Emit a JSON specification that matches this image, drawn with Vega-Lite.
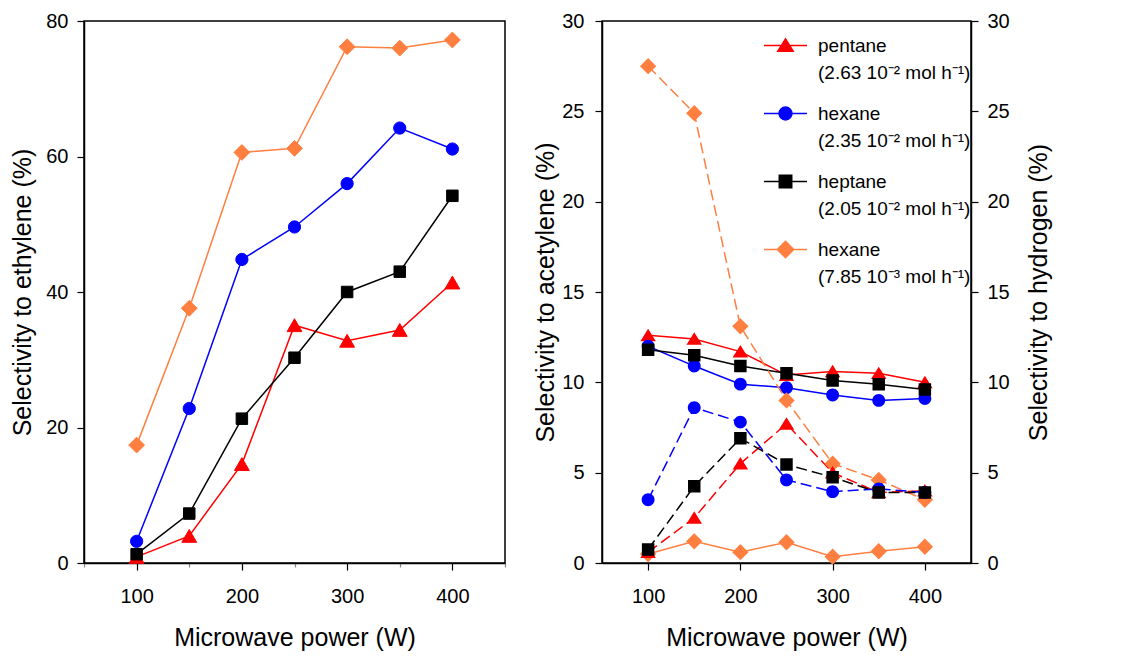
{
  "$schema": "https://vega.github.io/schema/vega-lite/v6.json",
  "background": "white",
  "padding": {"left": 10, "top": 10, "right": 5, "bottom": 5},
  "spacing": 26,
  "config": {
    "font": "Liberation Sans",
    "view": {"stroke": "black", "strokeWidth": 1.5},
    "style": {"guide-label": {"lineHeight": 27}},
    "axis": {
      "grid": false,
      "domainColor": "black",
      "domainWidth": 1.5,
      "tickColor": "black",
      "tickWidth": 1.2,
      "tickSize": 7,
      "labelFontSize": 20,
      "labelColor": "black",
      "labelPadding": 9,
      "titleFontSize": 25,
      "titleFontWeight": "normal",
      "titleColor": "black",
      "titlePadding": 10
    },
    "axisX": {"labelPadding": 16, "titlePadding": 19}
  },
  "resolve": {
    "scale": {"color": "independent", "fill": "independent", "stroke": "independent", "shape": "independent", "size": "independent"},
    "legend": {"color": "independent", "fill": "independent", "stroke": "independent", "shape": "independent", "size": "independent"}
  },
  "datasets": {
    "eth": [
      {"series": "hexane\n(7.85 10⁻³ mol h⁻¹)", "power": 100, "value": 17.4},
      {"series": "hexane\n(7.85 10⁻³ mol h⁻¹)", "power": 150, "value": 37.6},
      {"series": "hexane\n(7.85 10⁻³ mol h⁻¹)", "power": 200, "value": 60.6},
      {"series": "hexane\n(7.85 10⁻³ mol h⁻¹)", "power": 250, "value": 61.2},
      {"series": "hexane\n(7.85 10⁻³ mol h⁻¹)", "power": 300, "value": 76.2},
      {"series": "hexane\n(7.85 10⁻³ mol h⁻¹)", "power": 350, "value": 76.0},
      {"series": "hexane\n(7.85 10⁻³ mol h⁻¹)", "power": 400, "value": 77.2},
      {"series": "pentane\n(2.63 10⁻² mol h⁻¹)", "power": 100, "value": 0.9},
      {"series": "pentane\n(2.63 10⁻² mol h⁻¹)", "power": 150, "value": 4.0},
      {"series": "pentane\n(2.63 10⁻² mol h⁻¹)", "power": 200, "value": 14.6},
      {"series": "pentane\n(2.63 10⁻² mol h⁻¹)", "power": 250, "value": 35.1},
      {"series": "pentane\n(2.63 10⁻² mol h⁻¹)", "power": 300, "value": 32.8},
      {"series": "pentane\n(2.63 10⁻² mol h⁻¹)", "power": 350, "value": 34.4},
      {"series": "pentane\n(2.63 10⁻² mol h⁻¹)", "power": 400, "value": 41.4},
      {"series": "hexane\n(2.35 10⁻² mol h⁻¹)", "power": 100, "value": 3.2},
      {"series": "hexane\n(2.35 10⁻² mol h⁻¹)", "power": 150, "value": 22.8},
      {"series": "hexane\n(2.35 10⁻² mol h⁻¹)", "power": 200, "value": 44.8},
      {"series": "hexane\n(2.35 10⁻² mol h⁻¹)", "power": 250, "value": 49.6},
      {"series": "hexane\n(2.35 10⁻² mol h⁻¹)", "power": 300, "value": 56.0},
      {"series": "hexane\n(2.35 10⁻² mol h⁻¹)", "power": 350, "value": 64.2},
      {"series": "hexane\n(2.35 10⁻² mol h⁻¹)", "power": 400, "value": 61.1},
      {"series": "heptane\n(2.05 10⁻² mol h⁻¹)", "power": 100, "value": 1.3},
      {"series": "heptane\n(2.05 10⁻² mol h⁻¹)", "power": 150, "value": 7.3},
      {"series": "heptane\n(2.05 10⁻² mol h⁻¹)", "power": 200, "value": 21.3},
      {"series": "heptane\n(2.05 10⁻² mol h⁻¹)", "power": 250, "value": 30.3},
      {"series": "heptane\n(2.05 10⁻² mol h⁻¹)", "power": 300, "value": 40.0},
      {"series": "heptane\n(2.05 10⁻² mol h⁻¹)", "power": 350, "value": 43.0},
      {"series": "heptane\n(2.05 10⁻² mol h⁻¹)", "power": 400, "value": 54.2}
    ],
    "acet": [
      {"series": "hexane\n(7.85 10⁻³ mol h⁻¹)", "power": 100, "value": 0.5},
      {"series": "hexane\n(7.85 10⁻³ mol h⁻¹)", "power": 150, "value": 1.2},
      {"series": "hexane\n(7.85 10⁻³ mol h⁻¹)", "power": 200, "value": 0.6},
      {"series": "hexane\n(7.85 10⁻³ mol h⁻¹)", "power": 250, "value": 1.15},
      {"series": "hexane\n(7.85 10⁻³ mol h⁻¹)", "power": 300, "value": 0.35},
      {"series": "hexane\n(7.85 10⁻³ mol h⁻¹)", "power": 350, "value": 0.65},
      {"series": "hexane\n(7.85 10⁻³ mol h⁻¹)", "power": 400, "value": 0.9},
      {"series": "pentane\n(2.63 10⁻² mol h⁻¹)", "power": 100, "value": 12.6},
      {"series": "pentane\n(2.63 10⁻² mol h⁻¹)", "power": 150, "value": 12.4},
      {"series": "pentane\n(2.63 10⁻² mol h⁻¹)", "power": 200, "value": 11.7},
      {"series": "pentane\n(2.63 10⁻² mol h⁻¹)", "power": 250, "value": 10.4},
      {"series": "pentane\n(2.63 10⁻² mol h⁻¹)", "power": 300, "value": 10.6},
      {"series": "pentane\n(2.63 10⁻² mol h⁻¹)", "power": 350, "value": 10.5},
      {"series": "pentane\n(2.63 10⁻² mol h⁻¹)", "power": 400, "value": 10.0},
      {"series": "hexane\n(2.35 10⁻² mol h⁻¹)", "power": 100, "value": 12.0},
      {"series": "hexane\n(2.35 10⁻² mol h⁻¹)", "power": 150, "value": 10.9},
      {"series": "hexane\n(2.35 10⁻² mol h⁻¹)", "power": 200, "value": 9.9},
      {"series": "hexane\n(2.35 10⁻² mol h⁻¹)", "power": 250, "value": 9.7},
      {"series": "hexane\n(2.35 10⁻² mol h⁻¹)", "power": 300, "value": 9.3},
      {"series": "hexane\n(2.35 10⁻² mol h⁻¹)", "power": 350, "value": 9.0},
      {"series": "hexane\n(2.35 10⁻² mol h⁻¹)", "power": 400, "value": 9.1},
      {"series": "heptane\n(2.05 10⁻² mol h⁻¹)", "power": 100, "value": 11.8},
      {"series": "heptane\n(2.05 10⁻² mol h⁻¹)", "power": 150, "value": 11.5},
      {"series": "heptane\n(2.05 10⁻² mol h⁻¹)", "power": 200, "value": 10.9},
      {"series": "heptane\n(2.05 10⁻² mol h⁻¹)", "power": 250, "value": 10.5},
      {"series": "heptane\n(2.05 10⁻² mol h⁻¹)", "power": 300, "value": 10.1},
      {"series": "heptane\n(2.05 10⁻² mol h⁻¹)", "power": 350, "value": 9.9},
      {"series": "heptane\n(2.05 10⁻² mol h⁻¹)", "power": 400, "value": 9.6}
    ],
    "hyd": [
      {"series": "hexane\n(7.85 10⁻³ mol h⁻¹)", "power": 100, "value": 27.5},
      {"series": "hexane\n(7.85 10⁻³ mol h⁻¹)", "power": 150, "value": 24.9},
      {"series": "hexane\n(7.85 10⁻³ mol h⁻¹)", "power": 200, "value": 13.1},
      {"series": "hexane\n(7.85 10⁻³ mol h⁻¹)", "power": 250, "value": 9.0},
      {"series": "hexane\n(7.85 10⁻³ mol h⁻¹)", "power": 300, "value": 5.5},
      {"series": "hexane\n(7.85 10⁻³ mol h⁻¹)", "power": 350, "value": 4.6},
      {"series": "hexane\n(7.85 10⁻³ mol h⁻¹)", "power": 400, "value": 3.5},
      {"series": "pentane\n(2.63 10⁻² mol h⁻¹)", "power": 100, "value": 0.6},
      {"series": "pentane\n(2.63 10⁻² mol h⁻¹)", "power": 150, "value": 2.5},
      {"series": "pentane\n(2.63 10⁻² mol h⁻¹)", "power": 200, "value": 5.5},
      {"series": "pentane\n(2.63 10⁻² mol h⁻¹)", "power": 250, "value": 7.7},
      {"series": "pentane\n(2.63 10⁻² mol h⁻¹)", "power": 300, "value": 5.0},
      {"series": "pentane\n(2.63 10⁻² mol h⁻¹)", "power": 350, "value": 3.9},
      {"series": "pentane\n(2.63 10⁻² mol h⁻¹)", "power": 400, "value": 4.0},
      {"series": "hexane\n(2.35 10⁻² mol h⁻¹)", "power": 100, "value": 3.5},
      {"series": "hexane\n(2.35 10⁻² mol h⁻¹)", "power": 150, "value": 8.6},
      {"series": "hexane\n(2.35 10⁻² mol h⁻¹)", "power": 200, "value": 7.8},
      {"series": "hexane\n(2.35 10⁻² mol h⁻¹)", "power": 250, "value": 4.6},
      {"series": "hexane\n(2.35 10⁻² mol h⁻¹)", "power": 300, "value": 3.95},
      {"series": "hexane\n(2.35 10⁻² mol h⁻¹)", "power": 350, "value": 4.1},
      {"series": "hexane\n(2.35 10⁻² mol h⁻¹)", "power": 400, "value": 3.9},
      {"series": "heptane\n(2.05 10⁻² mol h⁻¹)", "power": 100, "value": 0.75},
      {"series": "heptane\n(2.05 10⁻² mol h⁻¹)", "power": 150, "value": 4.25},
      {"series": "heptane\n(2.05 10⁻² mol h⁻¹)", "power": 200, "value": 6.9},
      {"series": "heptane\n(2.05 10⁻² mol h⁻¹)", "power": 250, "value": 5.45},
      {"series": "heptane\n(2.05 10⁻² mol h⁻¹)", "power": 300, "value": 4.75},
      {"series": "heptane\n(2.05 10⁻² mol h⁻¹)", "power": 350, "value": 3.9},
      {"series": "heptane\n(2.05 10⁻² mol h⁻¹)", "power": 400, "value": 3.9}
    ]
  },
  "hconcat": [
    {
      "width": 421,
      "height": 542,
      "data": {"name": "eth"},
      "encoding": {
        "x": {"field": "power", "type": "quantitative", "scale": {"domain": [50, 450], "nice": false, "zero": false},
          "axis": {"title": "Microwave power (W)", "values": [50, 100, 150, 200, 250, 300, 350, 400, 450],
            "labelExpr": "datum.value % 100 == 0 ? datum.label : ''",
            "tickSize": {"condition": {"test": "datum.value % 100 == 0", "value": 7}, "value": 4},
            "tickColor": {"condition": {"test": "datum.value % 100 == 0", "value": "black"}, "value": "#888888"}}},
        "y": {"field": "value", "type": "quantitative", "scale": {"domain": [0, 80], "nice": false},
          "axis": {"title": "Selectivity to ethylene (%)", "values": [0, 20, 40, 60, 80]}}
      },
      "layer": [
        {"mark": {"type": "line", "strokeWidth": 1.5},
          "encoding": {"stroke": {"field": "series", "type": "nominal",
            "scale": {"domain": ["pentane\n(2.63 10⁻² mol h⁻¹)", "hexane\n(2.35 10⁻² mol h⁻¹)", "heptane\n(2.05 10⁻² mol h⁻¹)", "hexane\n(7.85 10⁻³ mol h⁻¹)"], "range": ["#FF0000", "#0000FF", "#000000", "#FF7F40"]}, "legend": null}}},
        {"mark": {"type": "point", "filled": true, "opacity": 1, "strokeWidth": 1},
          "encoding": {
            "fill": {"field": "series", "type": "nominal", "scale": {"domain": ["pentane\n(2.63 10⁻² mol h⁻¹)", "hexane\n(2.35 10⁻² mol h⁻¹)", "heptane\n(2.05 10⁻² mol h⁻¹)", "hexane\n(7.85 10⁻³ mol h⁻¹)"], "range": ["#FF0000", "#0000FF", "#000000", "#FF7F40"]}, "legend": null},
            "stroke": {"field": "series", "type": "nominal", "legend": null},
            "shape": {"field": "series", "type": "nominal", "scale": {"domain": ["pentane\n(2.63 10⁻² mol h⁻¹)", "hexane\n(2.35 10⁻² mol h⁻¹)", "heptane\n(2.05 10⁻² mol h⁻¹)", "hexane\n(7.85 10⁻³ mol h⁻¹)"], "range": ["triangle-up", "circle", "square", "diamond"]}, "legend": null},
            "size": {"field": "series", "type": "nominal", "scale": {"type": "ordinal", "domain": ["hexane\n(7.85 10⁻³ mol h⁻¹)", "heptane\n(2.05 10⁻² mol h⁻¹)", "hexane\n(2.35 10⁻² mol h⁻¹)", "pentane\n(2.63 10⁻² mol h⁻¹)"], "range": [250, 132, 150, 220]}, "legend": null}
          }}
      ]
    },
    {
      "width": 369,
      "height": 542,
      "encoding": {
        "x": {"field": "power", "type": "quantitative", "scale": {"domain": [50, 450], "nice": false, "zero": false},
          "axis": {"title": "Microwave power (W)", "values": [100, 200, 300, 400]}}
      },
      "layer": [
        {
          "data": {"name": "acet"},
          "encoding": {
            "y": {"field": "value", "type": "quantitative", "scale": {"domain": [0, 30], "nice": false},
              "axis": {"title": "Selectivity to acetylene (%)", "values": [0, 5, 10, 15, 20, 25, 30], "labelPadding": 11, "titlePadding": 3}}
          },
          "layer": [
            {"mark": {"type": "line", "strokeWidth": 1.5},
              "encoding": {"stroke": {"field": "series", "type": "nominal",
                "scale": {"domain": ["pentane\n(2.63 10⁻² mol h⁻¹)", "hexane\n(2.35 10⁻² mol h⁻¹)", "heptane\n(2.05 10⁻² mol h⁻¹)", "hexane\n(7.85 10⁻³ mol h⁻¹)"], "range": ["#FF0000", "#0000FF", "#000000", "#FF7F40"]},
                "legend": {"title": null, "orient": "none", "legendX": 161, "legendY": 2, "padding": 0, "labelExpr": "split(datum.label, '\\n')", "labelFontSize": 19, "labelColor": "black", "labelLimit": 0, "labelOffset": 10, "symbolSize": 1849, "symbolStrokeWidth": 1.5, "rowPadding": 8}}}},
            {"mark": {"type": "point", "filled": true, "opacity": 1, "size": 1849},
              "encoding": {
                "strokeWidth": {"value": 0},
                "fill": {"field": "series", "type": "nominal",
                  "scale": {"domain": ["pentane\n(2.63 10⁻² mol h⁻¹)", "hexane\n(2.35 10⁻² mol h⁻¹)", "heptane\n(2.05 10⁻² mol h⁻¹)", "hexane\n(7.85 10⁻³ mol h⁻¹)"], "range": ["#FF0000", "#0000FF", "#000000", "#FF7F40"]},
                  "legend": {"title": null, "orient": "none", "legendX": 161, "legendY": 2, "padding": 0, "labelExpr": "split(datum.label, '\\n')", "labelFontSize": 19, "labelColor": "black", "labelLimit": 0, "labelOffset": 10, "symbolSize": 1849, "symbolStrokeWidth": 1.5, "rowPadding": 8}},
                "shape": {"field": "series", "type": "nominal",
                  "scale": {"domain": ["pentane\n(2.63 10⁻² mol h⁻¹)", "hexane\n(2.35 10⁻² mol h⁻¹)", "heptane\n(2.05 10⁻² mol h⁻¹)", "hexane\n(7.85 10⁻³ mol h⁻¹)"],
                    "range": ["M-1,0H1M0,-0.31L0.36,0.27L-0.36,0.27Z", "M-1,0H1M-0.3,0A0.3,0.3,0,1,0,0.3,0A0.3,0.3,0,1,0,-0.3,0Z", "M-1,0H1M-0.29,-0.29H0.29V0.29H-0.29Z", "M-1,0H1M0,-0.38L0.38,0L0,0.38L-0.38,0Z"]},
                  "legend": {"title": null, "orient": "none", "legendX": 161, "legendY": 2, "padding": 0, "labelExpr": "split(datum.label, '\\n')", "labelFontSize": 19, "labelColor": "black", "labelLimit": 0, "labelOffset": 10, "symbolSize": 1849, "symbolStrokeWidth": 1.5, "rowPadding": 8}}
              }}
          ]
        },
        {
          "data": {"name": "hyd"},
          "encoding": {
            "y": {"field": "value", "type": "quantitative", "scale": {"domain": [0, 30], "nice": false},
              "axis": {"orient": "right", "title": "Selectivity to hydrogen (%)", "values": [0, 5, 10, 15, 20, 25, 30], "titleAngle": 270, "titleBaseline": "top", "titlePadding": 17}}
          },
          "layer": [
            {"mark": {"type": "line", "strokeWidth": 1.5, "strokeDash": [11, 5]},
              "encoding": {"color": {"field": "series", "type": "nominal",
                "scale": {"domain": ["hexane\n(7.85 10⁻³ mol h⁻¹)", "heptane\n(2.05 10⁻² mol h⁻¹)", "hexane\n(2.35 10⁻² mol h⁻¹)", "pentane\n(2.63 10⁻² mol h⁻¹)"], "range": ["#FF7F40", "#000000", "#0000FF", "#FF0000"]}, "legend": null}}},
            {"mark": {"type": "point", "filled": true, "opacity": 1, "size": 1849},
              "encoding": {
                "strokeWidth": {"value": 0},
                "fill": {"field": "series", "type": "nominal",
                  "scale": {"domain": ["pentane\n(2.63 10⁻² mol h⁻¹)", "hexane\n(2.35 10⁻² mol h⁻¹)", "heptane\n(2.05 10⁻² mol h⁻¹)", "hexane\n(7.85 10⁻³ mol h⁻¹)"], "range": ["#FF0000", "#0000FF", "#000000", "#FF7F40"]},
                  "legend": {"title": null, "orient": "none", "legendX": 161, "legendY": 2, "padding": 0, "labelExpr": "split(datum.label, '\\n')", "labelFontSize": 19, "labelColor": "black", "labelLimit": 0, "labelOffset": 10, "symbolSize": 1849, "symbolStrokeWidth": 1.5, "rowPadding": 8}},
                "shape": {"field": "series", "type": "nominal",
                  "scale": {"domain": ["pentane\n(2.63 10⁻² mol h⁻¹)", "hexane\n(2.35 10⁻² mol h⁻¹)", "heptane\n(2.05 10⁻² mol h⁻¹)", "hexane\n(7.85 10⁻³ mol h⁻¹)"],
                    "range": ["M-1,0H1M0,-0.31L0.36,0.27L-0.36,0.27Z", "M-1,0H1M-0.3,0A0.3,0.3,0,1,0,0.3,0A0.3,0.3,0,1,0,-0.3,0Z", "M-1,0H1M-0.29,-0.29H0.29V0.29H-0.29Z", "M-1,0H1M0,-0.38L0.38,0L0,0.38L-0.38,0Z"]},
                  "legend": {"title": null, "orient": "none", "legendX": 161, "legendY": 2, "padding": 0, "labelExpr": "split(datum.label, '\\n')", "labelFontSize": 19, "labelColor": "black", "labelLimit": 0, "labelOffset": 10, "symbolSize": 1849, "symbolStrokeWidth": 1.5, "rowPadding": 8}}
              }}
          ]
        }
      ],
      "resolve": {"scale": {"y": "independent"}}
    }
  ]
}
